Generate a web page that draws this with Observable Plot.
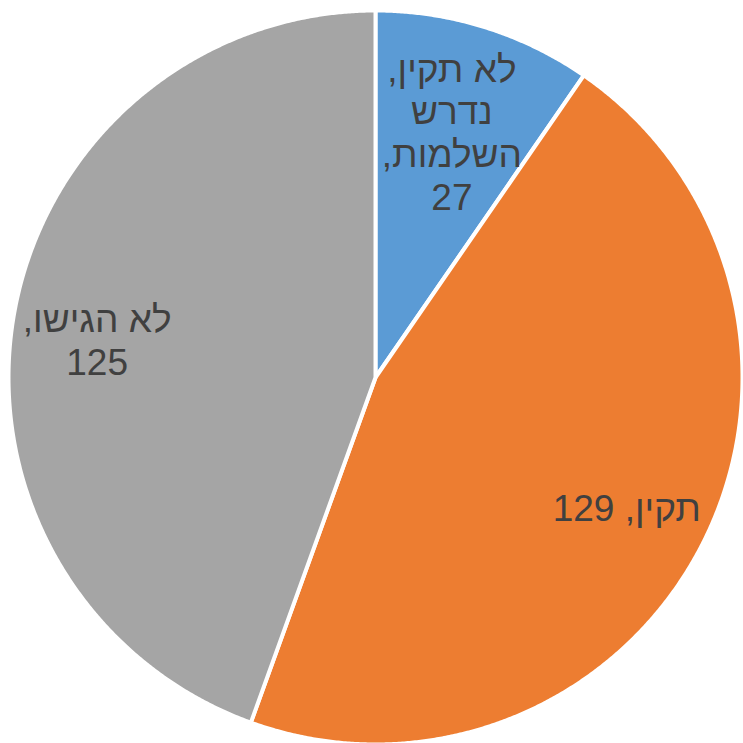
<!DOCTYPE html>
<html><head><meta charset="utf-8">
<script src="https://cdn.jsdelivr.net/npm/d3@7"></script>
<script src="https://cdn.jsdelivr.net/npm/@observablehq/plot@0.6"></script>
<style>html,body{margin:0;padding:0;background:#fff;overflow:hidden}</style>
</head><body><div id="chart"></div>
<script>
// Data
const categories = ["לא תקין, נדרש השלמות", "תקין", "לא הגישו"];
const values = [27, 129, 125];
const labelLines = [["לא תקין,", "נדרש", "השלמות,"], ["תקין,"], ["לא הגישו,"]];
const valueSep = ["\n", " ", "\n"];
const colors = ["#5B9BD5", "#ED7D31", "#A5A5A5"];

const W = 743, H = 743;
const cx = 375, cy = 377, R = 367;

const rows = categories.map((c, i) => ({category: c, value: values[i], i}));
const arcs = d3.pie().sort(null).value(d => d.value)(rows);

// polygon points for each slice (unit radius, angle clockwise from top)
const pts = [];
arcs.forEach(a => {
  const c = a.data.category;
  pts.push({category: c, x: 0, y: 0});
  const n = Math.max(2, Math.ceil((a.endAngle - a.startAngle) / 0.005));
  for (let k = 0; k <= n; k++) {
    const t = a.startAngle + (a.endAngle - a.startAngle) * k / n;
    pts.push({category: c, x: Math.sin(t), y: Math.cos(t)});
  }
  pts.push({category: c, x: 0, y: 0});
});

const labels = arcs.map(a => {
  const mid = (a.startAngle + a.endAngle) / 2;
  const span = a.endAngle - a.startAngle;
  const r = span < 0.8 ? 0.70 : 0.77;
  const i = a.data.i;
  const text = labelLines[i].join("\n") + valueSep[i] + a.data.value;
  return {x: r * Math.sin(mid), y: r * Math.cos(mid) - (i === 2 ? 0.03 : 0), text};
});

const chart = Plot.plot({
  width: W, height: H,
  margin: 0,
  style: {direction: "rtl", background: "#fff"},
  x: {domain: [-cx / R, (W - cx) / R], axis: null},
  y: {domain: [-(H - cy) / R, cy / R], axis: null},
  color: {domain: categories, range: colors},
  marks: [
    Plot.line(pts, {x: "x", y: "y", z: "category", fill: "category", stroke: "white", strokeWidth: 4, strokeLinejoin: "round", curve: "linear"}),
    Plot.text(labels, {x: "x", y: "y", text: "text", fill: "#404040", fontSize: 37, lineHeight: 1.16, fontFamily: "Liberation Sans, Arial, sans-serif", textAnchor: "middle", lineAnchor: "middle"})
  ]
});
document.getElementById("chart").append(chart);
</script>
</body></html>
